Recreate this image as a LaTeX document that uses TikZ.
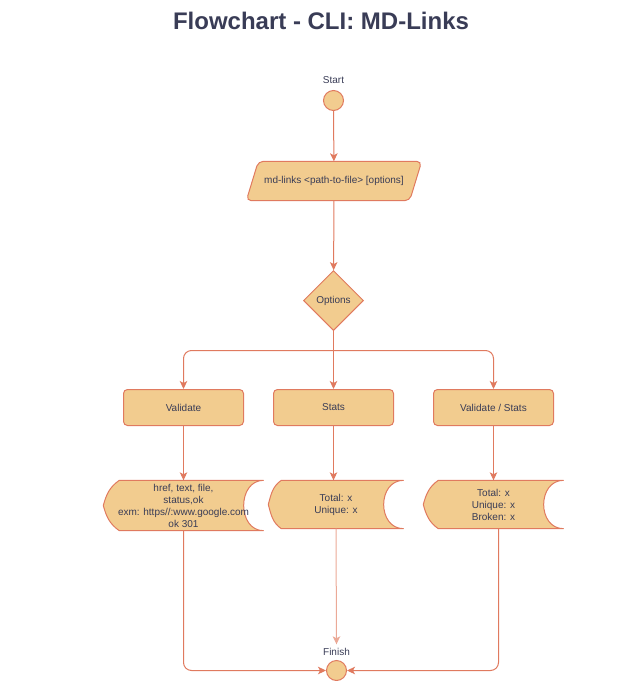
\documentclass[tikz,border=0pt]{standalone}
\usepackage{fontspec}
\setmainfont{Liberation Sans}
\usetikzlibrary{arrows.meta,shapes.geometric,backgrounds,calc}
\definecolor{boxfill}{HTML}{F2CC8F}
\definecolor{boxline}{HTML}{E07A5F}
\definecolor{ink}{HTML}{393C56}
\newcommand\storeshape[2]{%
  \path
  [datafill]
  ([xshift=#2]#1.north west)
  -- (#1.north east)
  .. controls ([xshift=-26.7pt]#1.north east) and ([xshift=-26.7pt]#1.south east) .. (#1.south east)
  -- ([xshift=#2]#1.south west)
  to[out=145, in=-75] (#1.west)
  to[out=75, in=-145] cycle;}
\newcommand\slantshape[2]{%
  \path
  [datafill, rounded corners=5pt]
  ([xshift=#2]#1.north west)
  -- (#1.north east)
  -- ([xshift=-#2]#1.south east)
  -- (#1.south west)
  -- cycle;}

\begin{document}
\begin{tikzpicture}
  [x=1pt, y=-1pt,
   font=\fontsize{10}{12}\selectfont, text=ink,
   flow/.style={draw=boxline, line width=1pt,
     -{Stealth[length=8pt,width=7.5pt,inset=2pt]}},
   terminal/.style={circle, draw=boxline, fill=boxfill, line width=1pt,
     minimum size=20pt, inner sep=0pt},
   process/.style={rectangle, rounded corners=4pt, draw=boxline, fill=boxfill,
     line width=1pt, minimum width=120pt, minimum height=36pt},
   storebox/.style={inner sep=0pt, align=center},
   datafill/.style={draw=boxline, fill=boxfill, line width=1pt}]
  \useasboundingbox (-0.5,-0.5) rectangle (640.5,680.5);

  \node
  [font=\fontsize{24}{28}\selectfont\bfseries]
  (title) at (320.5,20) {Flowchart - CLI: MD-Links};

  \node
  (startlbl) at (333,80) {Start};

  \node
  [terminal]
  (start) at (333,100) {};

  \node
  [storebox, minimum width=175pt, minimum height=39pt]
  (cmd) at (333.5,180.5) {md-links <path-to-file> [options]};

  \node
  [diamond, draw=boxline, fill=boxfill, line width=1pt,
   minimum width=60pt, minimum height=60pt, inner sep=0pt]
  (opt) at (333,300) {Options};

  \coordinate (split) at (333,350);

  \node
  [process]
  (val) at (183,407) {Validate};

  \node
  [process]
  (stats) at (333,407) {Stats};

  \node
  [process]
  (valstats) at (493,407) {Validate / Stats};

  \node
  [storebox, minimum width=160pt, minimum height=50pt]
  (d1) at (183,505) {href, text, file,\\status,ok\\exm: https//:www.google.com\\ok 301};

  \node
  [storebox, minimum width=135pt, minimum height=48pt]
  (d2) at (335.5,504) {Total: x\\Unique: x};

  \node
  [storebox, minimum width=140pt, minimum height=48pt]
  (d3) at (493,504) {Total: x\\Unique: x\\Broken: x};

  \node
  (finlbl) at (336,651) {Finish};

  \node
  [terminal]
  (finish) at (336,670) {};

  % shapes drawn behind the texts
  \begin{pgfonlayer}{background}
    \slantshape{cmd}{12pt}
    \storeshape{d1}{16pt}
    \storeshape{d2}{13pt}
    \storeshape{d3}{15pt}
  \end{pgfonlayer}

  \draw
  [flow]
  (start) -- (cmd);

  \draw
  [flow]
  (cmd) -- (opt);

  \draw
  [flow]
  (opt.south) -- (stats.north);

  \draw
  [flow, rounded corners=8pt]
  (split) -| (val.north);

  \draw
  [flow, rounded corners=8pt]
  (split) -| (valstats.north);

  \draw
  [flow]
  (val.south) -- (val.south |- d1.north);

  \draw
  [flow]
  (stats.south) -- (stats.south |- d2.north);

  \draw
  [flow]
  (valstats.south) -- (valstats.south |- d3.north);

  \draw
  [flow, rounded corners=8pt]
  (d1.south) |- (finish.west);

  \draw
  [flow, draw=boxline!65]
  (d2.south) -- (finlbl.north);

  \draw
  [flow, rounded corners=8pt]
  ([xshift=5pt]d3.south) |- (finish.east);
\end{tikzpicture}
\end{document}
